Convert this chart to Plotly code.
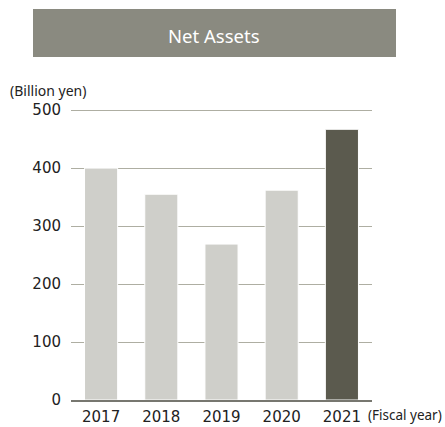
import plotly.graph_objects as go

years = ["2017", "2018", "2019", "2020", "2021"]
net_assets = [400, 355, 269, 362, 467]
bar_colors = ["#cfcfca", "#cfcfca", "#cfcfca", "#cfcfca", "#5b5a4e"]
y_ticks = [0, 100, 200, 300, 400, 500]

fig = go.Figure()
fig.add_trace(go.Bar(
    x=years, y=net_assets,
    marker=dict(color=bar_colors, line=dict(color="white", width=1)),
    width=0.55,
))

TOP = 109
BOT = 400
L, R = 71, 372
H = BOT - TOP

def px(x):
    return (x - L) / (R - L)

def py(y):
    return (BOT - y) / H

fig.update_layout(
    width=445, height=427,
    margin=dict(l=L, r=445 - R, t=TOP, b=427 - BOT, pad=0, autoexpand=False),
    paper_bgcolor="white", plot_bgcolor="white",
    showlegend=False,
    font=dict(family="DejaVu Sans", color="#222222", size=15),
    xaxis=dict(
        type="category", range=[-0.5, 4.5], automargin=False,
        showgrid=False, zeroline=False,
        showline=True, linecolor="#777770", linewidth=1.5,
        ticks="", ticklabelstandoff=2,
        tickfont=dict(size=15, color="#222222", family="DejaVu Sans"),
    ),
    yaxis=dict(
        range=[0, 502], tickvals=y_ticks, automargin=False,
        showgrid=True, gridcolor="#aeaea2", gridwidth=1,
        zeroline=False, showline=False, ticks="",
        ticklabelstandoff=9,
        tickfont=dict(size=15, color="#222222", family="DejaVu Sans"),
    ),
    shapes=[dict(
        type="rect", xref="paper", yref="paper",
        x0=px(33), x1=px(396), y0=py(57), y1=py(9),
        fillcolor="#8a8a80", line=dict(width=0), layer="below",
    )],
    annotations=[
        dict(text="Net Assets", xref="paper", yref="paper",
             x=px(214), y=py(35),
             xanchor="center", yanchor="middle", showarrow=False,
             font=dict(size=18.5, color="white", family="Noto Sans")),
        dict(text="(Billion yen)", xref="paper", yref="paper",
             x=px(8), y=py(90),
             xanchor="left", yanchor="middle", showarrow=False,
             font=dict(size=14, color="#222222", family="Noto Sans")),
        dict(text="(Fiscal year)", xref="paper", yref="paper",
             x=px(366), y=py(415),
             xanchor="left", yanchor="middle", showarrow=False,
             font=dict(size=13.5, color="#222222", family="Noto Sans")),
    ],
)

fig.write_html("out.html", config={"displayModeBar": False},
               post_script="document.body.style.margin='0';document.body.style.overflow='hidden';")
